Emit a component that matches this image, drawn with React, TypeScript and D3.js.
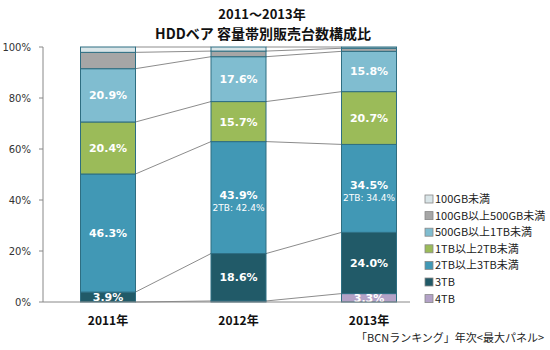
import React from "react";
import * as d3 from "d3";

const years = ["2011年", "2012年", "2013年"];
const seriesNames = [
  "4TB",
  "3TB",
  "2TB以上3TB未満",
  "1TB以上2TB未満",
  "500GB以上1TB未満",
  "100GB以上500GB未満",
  "100GB未満",
];
const s4TB = [0, 0.4, 3.3];
const s3TB = [3.9, 18.6, 24.0];
const s2to3 = [46.3, 43.9, 34.5];
const s1to2 = [20.4, 15.7, 20.7];
const s500to1 = [20.9, 17.6, 15.8];
const s100to500 = [6.4, 2.2, 1.2];
const sUnder100 = [2.1, 1.6, 0.5];
const sub2TB = ["", "2TB: 42.4%", "2TB: 34.4%"];
const yTicks = [0, 20, 40, 60, 80, 100];
const colors = ["#b3a2c7", "#215a68", "#4198b5", "#9bbb59", "#80bdd0", "#a6a6a6", "#d9e5e8"];
const showLabel = [true, true, true, true, true, false, false];

const allSeries = [s4TB, s3TB, s2to3, s1to2, s500to1, s100to500, sUnder100];

export default function App() {
  const W = 550, H = 350;
  const y = d3.scaleLinear().domain([0, 100]).range([302, 47]);
  const x = d3.scalePoint<string>().domain(years).range([108, 369]);
  const bw = 55;
  const font = "'Noto Sans CJK JP', 'DejaVu Sans', sans-serif";
  const labelFont = "'DejaVu Sans', 'Noto Sans CJK JP', sans-serif";

  const table = years.map((yr, i) => {
    const o: any = { year: yr };
    seriesNames.forEach((n, k) => (o[n] = allSeries[k][i]));
    return o;
  });
  const stacked = d3.stack<any>().keys(seriesNames)(table);

  const connectors: JSX.Element[] = [];
  for (let i = 0; i < years.length - 1; i++) {
    const x1 = (x(years[i]) as number) + bw / 2;
    const x2 = (x(years[i + 1]) as number) - bw / 2;
    stacked.forEach((layer, k) => {
      connectors.push(
        <line key={`c${i}-${k}`} x1={x1} x2={x2} y1={y(layer[i][1])} y2={y(layer[i + 1][1])}
          stroke="#8c8c8c" strokeWidth={1} />
      );
    });
  }

  return (
    <svg width={W} height={H} style={{ position: "absolute", left: 0, top: 0, background: "#fff" }}>
      <text x={262} y={19} textAnchor="middle" fontFamily={font} fontWeight="bold" fontSize={13} fill="#111">2011～2013年</text>
      <text x={263} y={38.5} textAnchor="middle" fontFamily={font} fontWeight="bold" fontSize={14} fill="#111">HDDベア 容量帯別販売台数構成比</text>

      {/* axes */}
      <line x1={43} x2={43} y1={y(100)} y2={y(0)} stroke="#888" />
      {yTicks.map((t) => (
        <g key={t}>
          <line x1={39} x2={43} y1={y(t)} y2={y(t)} stroke="#888" />
          <text x={31} y={y(t) + 4} textAnchor="end" fontFamily={labelFont} fontSize={10} fill="#333">{t}%</text>
        </g>
      ))}

      {connectors}

      {stacked.map((layer, k) => (
        <g key={seriesNames[k]}>
          {layer.map((d, i) => {
            const h = y(d[0]) - y(d[1]);
            if (h <= 0) return null;
            return (
              <rect key={i} x={(x(years[i]) as number) - bw / 2} y={y(d[1])} width={bw} height={h}
                fill={colors[k]} stroke="#2e6e82" strokeWidth={1} />
            );
          })}
        </g>
      ))}

      {stacked.map((layer, k) =>
        showLabel[k]
          ? layer.map((d, i) => {
              const v = allSeries[k][i];
              if (v < 1) return null;
              const cx = x(years[i]) as number;
              const cy = (y(d[0]) + y(d[1])) / 2;
              const hasSub = k === 2 && sub2TB[i];
              return (
                <g key={`l${k}-${i}`}>
                  <text x={cx} y={hasSub ? cy + 1 : cy + 4} textAnchor="middle" fontFamily={labelFont}
                    fontWeight="bold" fontSize={11} fill="#fff">{v.toFixed(1)}%</text>
                  {hasSub ? (
                    <text x={cx} y={cy + 13} textAnchor="middle" fontFamily={labelFont} fontSize={9} fill="#fff">{sub2TB[i]}</text>
                  ) : null}
                </g>
              );
            })
          : null
      )}

      <line x1={43} x2={410} y1={y(0)} y2={y(0)} stroke="#888" />

      {years.map((yr) => (
        <text key={yr} x={x(yr) as number} y={325} textAnchor="middle" fontFamily={font} fontWeight="bold" fontSize={12} fill="#111">{yr}</text>
      ))}

      {/* legend */}
      {seriesNames.slice().reverse().map((n, j) => {
        const k = seriesNames.length - 1 - j;
        const ly = 199 + j * 16.6;
        return (
          <g key={`lg${n}`}>
            <rect x={425} y={ly - 4} width={8} height={8} fill={colors[k]} stroke="#888" strokeWidth={0.8} />
            <text x={435} y={ly + 4} fontFamily={font} fontSize={11} fill="#222">{n}</text>
          </g>
        );
      })}

      <text x={356} y={342} fontFamily={font} fontSize={11} fill="#222">「BCNランキング」年次&lt;最大パネル&gt;</text>
    </svg>
  );
}
